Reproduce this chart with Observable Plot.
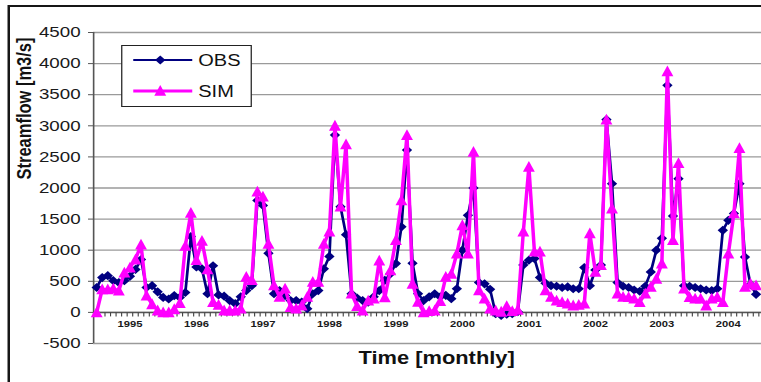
<!DOCTYPE html>
<html>
<head>
<meta charset="utf-8">
<script src="https://cdn.jsdelivr.net/npm/d3@7"></script>
<script src="https://cdn.jsdelivr.net/npm/@observablehq/plot@0.6"></script>
<style>
  html, body { margin:0; padding:0; background:#fff; width:761px; height:382px; overflow:hidden; }
  #wrap { position:absolute; left:0; top:0; width:608.8px; height:382px; transform:scaleX(1.25); transform-origin:0 0; }
  #frame { position:absolute; left:6px; top:5px; width:640px; height:420px; border:2px solid #161616; box-sizing:border-box; }
  #chart { position:absolute; left:0; top:0; }
  #legend { position:absolute; left:96.8px; top:45px; overflow:visible; }
</style>
</head>
<body>
<div id="wrap"><div id="frame"></div><div id="chart"></div><svg id="legend" width="104.4" height="62"></svg></div>
<script>
// ---- data (monthly, Jan 1995 .. Dec 2004) ----
const seriesNames = ["OBS", "SIM"];
const seriesColors = ["#000080", "#ff00ff"];
const obs = [
  400, 560, 590, 510, 480, 510, 580, 690, 850, 400, 430, 330,
  240, 215, 270, 240, 320, 1220, 730, 700, 300, 750, 280, 260,
  190, 140, 250, 350, 430, 1800, 1720, 950, 300, 350, 270, 190,
  190, 165, 60, 300, 350, 700, 900, 2850, 1700, 1250, 300, 230,
  190, 165, 250, 350, 515, 620, 785, 1375, 2610, 790, 300, 190,
  250, 300, 250, 275, 220, 380, 1000, 1560, 2000, 480, 460, 370,
  -20, -50, -30, -20, 10, 760, 840, 865, 560, 470, 430, 420,
  400, 410, 380, 380, 720, 430, 680, 760, 3100, 2070, 480, 420,
  400, 360, 340, 420, 650, 1000, 1190, 3650, 1550, 2150, 430, 420,
  400, 380, 360, 350, 380, 1320, 1480, 1590, 2070, 890, 450, 290
];
const sim = [
  0, 370, 370, 380, 350, 640, 720, 850, 1090, 270, 130, 30,
  0, 0, 50, 150, 1070, 1600, 840, 1150, 690, 165, 120, 30,
  30, 30, 60, 570, 520, 1940, 1860, 1100, 435, 250, 380, 85,
  60, 110, 250, 490, 490, 1100, 1300, 3000, 1700, 2700, 300, 100,
  30, 190, 220, 830, 240, 675, 1160, 1800, 2850, 460, 170, 0,
  20, 30, 180, 570, 620, 945, 1400, 945, 2580, 355, 220, 60,
  30, 10, 100, 20, 40, 1300, 2340, 975, 975, 355, 250, 190,
  165, 140, 110, 120, 140, 1270, 650, 760, 3100, 1670, 300, 250,
  245, 220, 165, 300, 410, 540, 785, 3875, 1160, 2400, 380, 245,
  220, 220, 110, 220, 245, 165, 945, 1590, 2640, 410, 460, 435
];
const yTicks = [-500, 0, 500, 1000, 1500, 2000, 2500, 3000, 3500, 4000, 4500];
const yearLabels = ["1995", "1996", "1997", "1998", "1999", "2000", "2001", "2002", "2003", "2004"];
const yearLabelMonth = [6, 18, 30, 42, 54, 66, 78, 90, 102, 114];
const yTitle = "Streamflow [m3/s]";
const xTitle = "Time [monthly]";

// ---- layout ----
const SX = 1.25;
const W = 761 / SX, H = 382;
const xDomain = [-0.55, 120];
const FONT = "'Liberation Sans', Arial, sans-serif";

const diamond = { draw(ctx, size) { const r = Math.sqrt(size / Math.PI);
  ctx.moveTo(0, -r); ctx.lineTo(0.9 * r, 0); ctx.lineTo(0, r); ctx.lineTo(-0.9 * r, 0); ctx.closePath(); } };
const triangle = { draw(ctx, size) { const r = Math.sqrt(size / Math.PI);
  ctx.moveTo(0, -1.1 * r); ctx.lineTo(0.88 * r, 0.9 * r); ctx.lineTo(-0.88 * r, 0.9 * r); ctx.closePath(); } };
const vtick = { draw(ctx, size) { const r = Math.sqrt(size / Math.PI);
  ctx.moveTo(0, 0); ctx.lineTo(0, r); } };

const obsData = obs.map((v, i) => ({i, v}));
const simData = sim.map((v, i) => ({i, v}));
const monthBounds = d3.range(obs.length + 1).map(k => k - 0.5);
const yearData = yearLabels.map((label, k) => ({label, i: yearLabelMonth[k]}));

const chart = Plot.plot({
  width: W, height: H,
  marginLeft: 93 / SX, marginRight: 0, marginTop: 32, marginBottom: 39,
  x: {domain: xDomain, axis: null},
  y: {domain: [-500, 4500], axis: null},
  style: {fontFamily: FONT, background: "transparent", color: "#1a1a1a", overflow: "visible"},
  marks: [
    Plot.gridY(yTicks, {stroke: "#9a9a9a", strokeOpacity: 1, strokeWidth: 1.3}),
    Plot.ruleX([xDomain[0]], {stroke: "#555", strokeWidth: 1.3}),
    Plot.axisY(yTicks, {tickSize: 4, tickPadding: 6.4, fontSize: 15, label: null, stroke: "#555", tickFormat: d => String(d)}),
    Plot.ruleY([0], {stroke: "#555", strokeWidth: 1.5}),
    Plot.dot(monthBounds, {x: d => d, y: () => 0, symbol: vtick, r: 4, stroke: "#444", fill: "none", strokeWidth: 0.9}),
    Plot.text(yearData, {x: "i", y: () => 0, text: "label", dy: 12, fontSize: 9, fontWeight: "bold", fill: "#1a1a1a"}),
    Plot.text([yTitle], {frameAnchor: "left", rotate: -90, dx: -55.6, dy: -8.5, fontSize: 16.5, fontWeight: "bold", fill: "#111"}),
    Plot.text([xTitle], {frameAnchor: "bottom", dx: 7.2, dy: 21, fontSize: 17.5, fontWeight: "bold", fill: "#111"}),
    Plot.line(obsData, {x: "i", y: "v", stroke: seriesColors[0], strokeWidth: 2.2, strokeLinejoin: "round"}),
    Plot.dot(obsData, {x: "i", y: "v", symbol: diamond, r: 4.6, fill: seriesColors[0], stroke: "none"}),
    Plot.line(simData, {x: "i", y: "v", stroke: seriesColors[1], strokeWidth: 2.8, strokeLinejoin: "round"}),
    Plot.dot(simData, {x: "i", y: "v", symbol: triangle, r: 5.4, fill: seriesColors[1], stroke: "none"})
  ]
});
document.getElementById("chart").appendChild(chart);

// ---- legend ----
const lg = d3.select("#legend");
lg.append("rect").attr("x", 0.4).attr("y", 0.5).attr("width", 103.6).attr("height", 61)
  .attr("fill", "#fff").attr("stroke", "#222").attr("stroke-width", 1);
const lgRows = [15, 46];
const lgSymbols = [[diamond, 4.6, 2.2], [triangle, 5.4, 2.8]];
seriesNames.forEach((name, k) => {
  const y = lgRows[k];
  lg.append("line").attr("x1", 9.6).attr("x2", 56.8).attr("y1", y).attr("y2", y)
    .attr("stroke", seriesColors[k]).attr("stroke-width", lgSymbols[k][2]);
  const p = d3.path();
  lgSymbols[k][0].draw(p, Math.PI * lgSymbols[k][1] ** 2);
  lg.append("path").attr("d", p.toString()).attr("transform", `translate(31.2,${y})`).attr("fill", seriesColors[k]);
  lg.append("text").attr("x", 61.6).attr("y", y).attr("dy", "0.35em").attr("font-family", FONT)
    .attr("font-size", 16).attr("fill", "#111").text(name);
});
</script>
</body>
</html>
